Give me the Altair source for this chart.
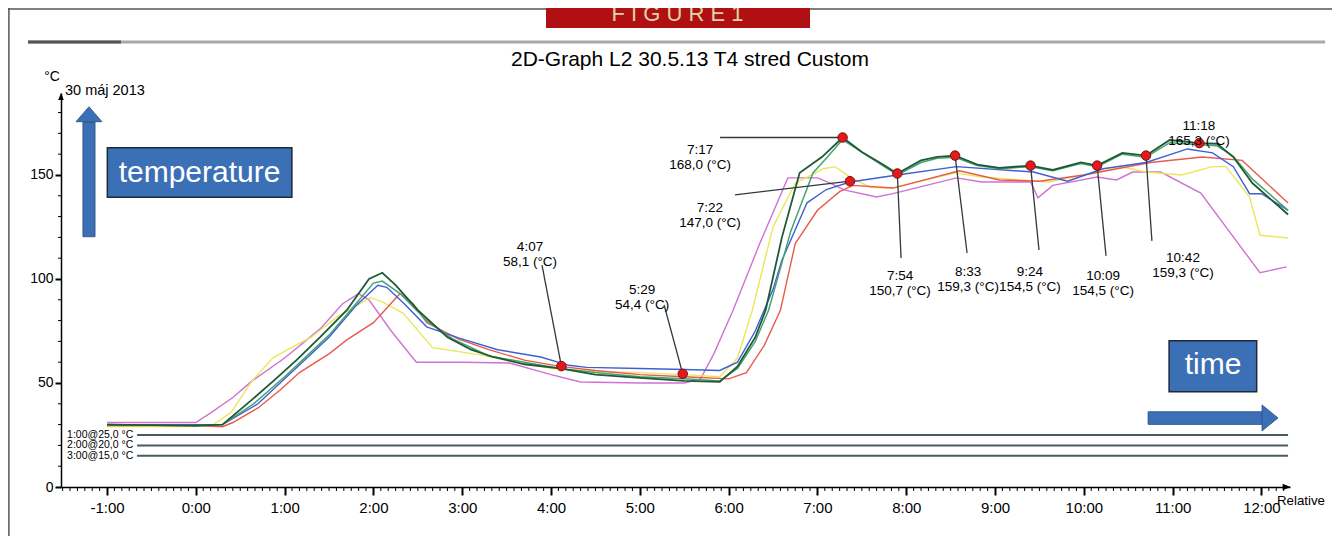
import altair as alt
import pandas as pd

# ---------------- data: (time in minutes relative to 0:00, temperature in °C) ----------------
magenta = [(-60, 31), (0, 31), (10, 35.6), (25, 43), (38, 51), (60, 62), (84, 76), (99, 88), (110, 93),
           (117, 90), (132, 75), (149, 60), (180, 60), (212, 59.6), (240, 54), (260, 50.5), (300, 50),
           (330, 50), (341, 52), (350, 64), (363, 85), (381, 117), (400, 148.6), (420, 148.6), (429, 146),
           (438, 142.8), (460, 139.4), (471, 141), (514, 148.6), (531, 146.6), (564, 146.6), (569, 139),
           (579, 145), (609, 149), (622, 147.6), (633, 151.4), (652, 151.4), (679, 141.3), (719, 103),
           (737, 105.8)]
yellow = [(-60, 29), (0, 29), (12, 30), (24, 36), (38, 51), (52, 62), (62, 66), (78, 72), (96, 82),
          (118, 91), (126, 89), (140, 83.6), (160, 67), (192, 63.5), (216, 60), (240, 57), (270, 55.5),
          (300, 55), (330, 54), (354, 53), (366, 62), (376, 85), (390, 125), (405, 146), (424, 153),
          (432, 154), (442, 149), (456, 144), (471, 143.7), (513, 151), (531, 149), (576, 146.6),
          (626, 153.8), (642, 151.4), (666, 150), (687, 154), (696, 154), (712, 139.4), (719, 121),
          (738, 119.7)]
red = [(-60, 29.5), (0, 29.5), (18, 29), (25, 31), (42, 38), (57, 46.6), (70, 55), (90, 64), (102, 70.7),
       (120, 79), (138, 93), (147, 88), (156, 79), (178, 71), (198, 66), (222, 61), (246, 58), (270, 56),
       (300, 54), (330, 53), (360, 52), (372, 55), (384, 68), (395, 85), (405, 117), (420, 133), (435, 142),
       (444, 145), (471, 143.7), (516, 152), (543, 147.6), (570, 147), (600, 150), (645, 156),
       (680, 158.6), (707, 157), (738, 136.5)]
blue = [(-60, 30), (0, 30), (18, 30), (42, 40), (60, 52), (72, 60), (90, 72), (108, 87), (123, 97),
        (129, 96), (141, 88), (156, 77), (178, 71.6), (204, 66), (233, 62.5), (252, 58.5), (264, 57.5),
        (300, 57), (330, 56.5), (354, 56), (366, 60), (378, 75), (390, 95), (396, 109), (413, 136.6),
        (426, 143), (442, 146.6), (474, 150), (514, 154), (566, 151.4), (589, 147), (613, 153),
        (642, 156), (670, 162.5), (687, 160.6), (701, 154), (712, 141), (720, 141), (738, 133)]
green = [(-60, 30), (0, 29.5), (18, 30), (39, 40), (60, 53), (72, 61), (90, 73), (108, 88), (120, 98),
         (126, 99), (138, 93), (156, 80), (174, 71), (198, 63), (222, 60), (246, 57), (270, 55), (300, 53),
         (330, 52), (354, 51), (366, 57), (378, 70), (387, 85), (402, 123), (417, 151), (426, 158),
         (437, 167), (450, 161), (462, 155.5), (474, 150), (490, 156), (501, 158), (513, 158.5),
         (528, 154.5), (543, 153), (564, 154), (579, 152), (598, 155.5), (609, 154), (626, 160),
         (642, 158.5), (658, 165.5), (678, 164.5), (690, 164), (701, 159), (714, 148), (738, 133)]
darkgreen = [(-60, 30), (0, 29.5), (18, 30), (38, 42), (54, 52), (68, 61), (84, 72), (102, 85), (117, 100),
             (126, 103), (135, 97), (150, 85), (170, 72), (186, 66), (201, 62.5), (222, 59), (246, 57),
             (270, 54), (300, 52.5), (330, 51), (354, 50.5), (366, 58), (378, 72), (385, 85), (396, 120),
             (408, 151), (423, 158.6), (437, 168), (450, 161), (462, 156), (474, 150.7), (490, 157),
             (501, 158.7), (513, 159.3), (528, 155), (543, 153.4), (564, 154.5), (579, 152.4), (598, 156),
             (609, 154.5), (626, 160.6), (642, 159.3), (658, 166.8), (678, 165.3), (690, 165),
             (701, 158.6), (714, 146), (738, 131)]

series_names = ["magenta", "yellow", "red", "blue", "green", "darkgreen"]
series_data = [magenta, yellow, red, blue, green, darkgreen]
series_colors = ["#cf72d2", "#ebe65c", "#e85a4e", "#3d5fd4", "#47a272", "#1f5a36"]
series_widths = [1.4, 1.4, 1.4, 1.4, 1.5, 1.8]

marker_times = ["4:07", "5:29", "7:17", "7:22", "7:54", "8:33", "9:24", "10:09", "10:42", "11:18"]
marker_values = [58.1, 54.4, 168.0, 147.0, 150.7, 159.3, 154.5, 154.5, 159.3, 165.3]

ref_temps = [25, 20, 15]
ref_labels = ["1:00@25,0 °C", "2:00@20,0 °C", "3:00@15,0 °C"]

x_hour_values = [-60, 0, 60, 120, 180, 240, 300, 360, 420, 480, 540, 600, 660, 720]
x_hour_labels = ["-1:00", "0:00", "1:00", "2:00", "3:00", "4:00", "5:00", "6:00", "7:00",
                 "8:00", "9:00", "10:00", "11:00", "12:00"]
x_minor_values = [v for v in range(-90, 740, 5) if v % 60 != 0]
y_major_values = [0, 50, 100, 150]
y_minor_values = [v for v in range(10, 190, 10) if v % 50 != 0]

# ---------------- layout (positions in data space: minutes, °C) ----------------
label_pos = [(225.8, 115.4), (301.5, 94.7), (340.7, 162), (347.4, 134.1), (475.8, 101.4),
             (521.8, 103.4), (563.6, 103.4), (613, 101.4), (667, 110.1), (677.8, 173.6)]
leader_start = [(233.9, 106.7), (316.4, 87.5), (354.2, 168.0), (364.3, 140.4), (476.5, 110.1),
                (521.1, 112.5), (569.7, 113.9), (615, 111.1), (646, 118.3), None]

FONT = "Liberation Sans"
X0, X1 = -91.1, 739.3
XS = alt.Scale(domain=[X0, X1], nice=False, zero=False)
YS = alt.Scale(domain=[0, 189.4], nice=False, zero=False)
PX_X = 1229 / (X1 - X0)     # pixels per minute
PX_Y = 394 / 189.4          # pixels per °C


def to_min(s):
    h, m = s.split(":")
    return int(h) * 60 + int(m)


x_label_expr = " : ".join(f"datum.value === {v} ? '{l}'" for v, l in zip(x_hour_values, x_hour_labels)) + " : ''"
XAXIS = alt.Axis(
    values=x_hour_values, labelExpr=x_label_expr,
    tickSize=8, tickWidth=2, tickColor="black", domainColor="black", domainWidth=1.5,
    labelFont=FONT, labelFontSize=15, labelColor="black", labelPadding=5,
    labelOverlap=False, labelFlush=False, grid=False, title=None,
)
YAXIS = alt.Axis(
    values=y_major_values,
    tickSize=6, tickWidth=2, tickColor="black", domainColor="black", domainWidth=1.5,
    labelFont=FONT, labelFontSize=14, labelColor="black", labelPadding=2,
    labelOverlap=False, grid=False, title=None,
)


def X(f="x"):
    return alt.X(f"{f}:Q", scale=XS, axis=XAXIS)


def Y(f="y"):
    return alt.Y(f"{f}:Q", scale=YS, axis=YAXIS)


def rules(df, **kw):
    return alt.Chart(df).mark_rule(**kw).encode(x=X("x"), x2="x2:Q", y=Y("y"), y2="y2:Q")


def texts(df, **kw):
    base = dict(font=FONT, color="black")
    base.update(kw)
    return alt.Chart(df).mark_text(**base).encode(x=X("x"), y=Y("y"), text="text:N")


def rects(df, **kw):
    return alt.Chart(df).mark_rect(**kw).encode(x=X("x"), x2="x2:Q", y=Y("y"), y2="y2:Q")


def symbol(df, shape, size, **kw):
    return alt.Chart(df).mark_point(shape=shape, size=size, filled=True, opacity=1, **kw).encode(
        x=X("x"), y=Y("y"))


layers = []

for name, pts, col, w in zip(series_names, series_data, series_colors, series_widths):
    df = pd.DataFrame(pts, columns=["t", "v"])
    layers.append(alt.Chart(df).mark_line(color=col, strokeWidth=w).encode(
        x=X("t"), y=Y("v"), order="t:Q"))

# minor ticks
layers.append(rules(pd.DataFrame({"x": x_minor_values, "x2": x_minor_values,
                                  "y": [0] * len(x_minor_values),
                                  "y2": [-4 / PX_Y] * len(x_minor_values)}),
                    stroke="black", strokeWidth=1))
layers.append(rules(pd.DataFrame({"x": [X0] * len(y_minor_values), "x2": [X0 - 3 / PX_X] * len(y_minor_values),
                                  "y": y_minor_values, "y2": y_minor_values}),
                    stroke="black", strokeWidth=1))

# frame
layers.append(rules(pd.DataFrame({"x": [-130, 415], "x2": [236.6, 790], "y": [229.8, 229.8],
                                  "y2": [229.8, 229.8]}), stroke="#555555", strokeWidth=1.5))
layers.append(rules(pd.DataFrame({"x": [-126.3], "x2": [-126.3], "y": [232], "y2": [-40]}),
                    stroke="#555555", strokeWidth=1.5))
layers.append(rules(pd.DataFrame({"x": [-113.4], "x2": [763], "y": [213.9], "y2": [213.9]}),
                    stroke="#a8a8a8", strokeWidth=3))
layers.append(rules(pd.DataFrame({"x": [-113.4], "x2": [-50.6], "y": [213.9], "y2": [213.9]}),
                    stroke="#555555", strokeWidth=3))
# banner
layers.append(rects(pd.DataFrame({"x": [236.6], "x2": [415], "y": [240], "y2": [220.7]}),
                    color="#b00f14"))
layers.append(texts(pd.DataFrame({"x": [325.5], "y": [224.2], "text": ["F I G U R E  1"]}),
                    fontSize=22, color="#dcd6a6", align="center", baseline="alphabetic"))
# title
layers.append(texts(pd.DataFrame({"x": [333.9], "y": [202.4],
                                  "text": ["2D-Graph L2 30.5.13 T4 stred Custom"]}),
                    fontSize=21, align="center", baseline="alphabetic"))
layers.append(texts(pd.DataFrame({"x": [-102.5], "y": [195.4], "text": ["°C"]}),
                    fontSize=14, align="left", baseline="alphabetic"))
layers.append(texts(pd.DataFrame({"x": [-88.4], "y": [188.6], "text": ["30 máj 2013"]}),
                    fontSize=14.5, align="left", baseline="alphabetic"))

# reference lines
ref_df = pd.DataFrame({"x": [-39.7] * 3, "x2": [738] * 3, "y": ref_temps, "y2": ref_temps})
layers.append(rules(ref_df, stroke="#4c5a60", strokeWidth=2))
layers.append(texts(pd.DataFrame({"x": [-87] * 3, "y": ref_temps, "text": ref_labels}),
                    fontSize=10.5, align="left", baseline="middle"))

# leaders, markers, labels
mk_x = [to_min(s) for s in marker_times]
lead_rows = [{"x": s[0], "y": s[1], "x2": mx, "y2": mv}
             for s, mx, mv in zip(leader_start, mk_x, marker_values) if s is not None]
layers.append(rules(pd.DataFrame(lead_rows), stroke="#2e3a3e", strokeWidth=1.3))
layers.append(alt.Chart(pd.DataFrame({"x": mk_x, "y": marker_values})).mark_circle(
    size=90, color="#e3191b", stroke="#7a1212", strokeWidth=1, opacity=1).encode(x=X("x"), y=Y("y")))
lab_text = [f"{t}\n{v:.1f}".replace(".", ",") + " (°C)" for t, v in zip(marker_times, marker_values)]
layers.append(texts(pd.DataFrame({"x": [p[0] for p in label_pos], "y": [p[1] for p in label_pos],
                                  "text": lab_text}),
                    fontSize=13.5, align="center", baseline="middle", lineBreak="\n", lineHeight=15))

BLUE = "#3b6fb6"
# temperature box + up arrow
layers.append(rects(pd.DataFrame({"x": [-76.3], "x2": [-68.1], "y": [120.3], "y2": [175.5]}),
                    color=BLUE, stroke="#2a4d86", strokeWidth=0.8))
layers.append(symbol(pd.DataFrame({"x": [-72.2], "y": [179.2]}), "M0,-0.577L-1,0.577L1,0.577Z", 676,
                     color=BLUE, stroke="#2a4d86", strokeWidth=0.8))
layers.append(rects(pd.DataFrame({"x": [-59.8], "x2": [64.9], "y": [139.3], "y2": [163.1]}),
                    color=BLUE, stroke="#1f2a3a", strokeWidth=1.5))
layers.append(texts(pd.DataFrame({"x": [2.5], "y": [151.0], "text": ["temperature"]}),
                    fontSize=30, color="white", align="center", baseline="middle"))
# time box + right arrow
layers.append(rects(pd.DataFrame({"x": [657.6], "x2": [716.8], "y": [45.8], "y2": [70.3]}),
                    color=BLUE, stroke="#1f2a3a", strokeWidth=1.5))
layers.append(texts(pd.DataFrame({"x": [687.3], "y": [58.6], "text": ["time"]}),
                    fontSize=30, color="white", align="center", baseline="middle"))
layers.append(rects(pd.DataFrame({"x": [643.4], "x2": [721.8], "y": [30.1], "y2": [36.2]}),
                    color=BLUE, stroke="#2a4d86", strokeWidth=0.8))
layers.append(symbol(pd.DataFrame({"x": [725.8], "y": [33.2]}), "M0.615,0L-0.615,-1L-0.615,1Z", 676,
                     color=BLUE, stroke="#2a4d86", strokeWidth=0.8))

# axis arrow heads and "Relative"
layers.append(symbol(pd.DataFrame({"x": [X0], "y": [187.7]}), "M0,-1L-0.8,1L0.8,1Z", 49, color="black"))
layers.append(symbol(pd.DataFrame({"x": [737.0], "y": [0]}), "M1,0L-1,-0.8L-1,0.8Z", 64, color="black"))
layers.append(texts(pd.DataFrame({"x": [730.5], "y": [-8.7], "text": ["Relative"]}),
                    fontSize=13.3, align="left", baseline="alphabetic"))

chart = alt.layer(*layers).properties(
    width=1229, height=394,
    autosize=alt.AutoSizeParams(type="none"),
    padding={"left": 53, "top": 85, "right": 42, "bottom": 49},
    background="white",
).configure_view(strokeWidth=0)

chart.save("out.html", embed_options={"renderer": "svg", "actions": False})
